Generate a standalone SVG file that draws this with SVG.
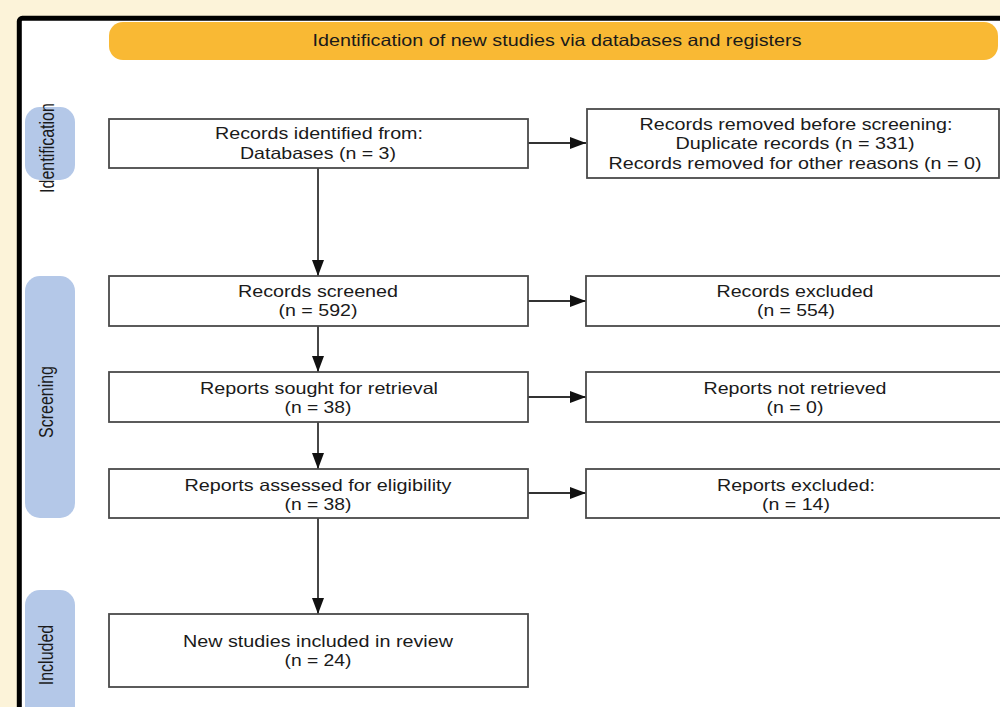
<svg xmlns="http://www.w3.org/2000/svg" width="1000" height="707" viewBox="0 0 1000 707">
<style>
.box{fill:#fff;stroke:#4a4a4a;stroke-width:1.8}
.t{font-family:"Liberation Sans",Arial,sans-serif;font-size:16.5px;fill:#1a1a1a;text-anchor:middle}
.side{fill:#b4c8e8}
.lbl{font-family:"Liberation Sans",Arial,sans-serif;font-size:16px;fill:#1a1a1a;text-anchor:middle}
.con{stroke:#333;stroke-width:1.8;fill:none;marker-end:url(#ah)}
</style>
<defs>
<marker id="ah" markerWidth="16" markerHeight="12" refX="16" refY="6" orient="auto" markerUnits="userSpaceOnUse">
<path d="M0,0 L16,6 L0,12 z" fill="#111"/>
</marker>
</defs>
<rect x="0" y="0" width="1000" height="707" fill="#fcf3d9"/>
<rect x="19.3" y="18.3" width="1100" height="800" rx="3" fill="#fff" stroke="#000" stroke-width="5"/>

<g id="banner">
<rect x="109" y="22" width="889" height="38" rx="14" fill="#f9b934"/>
<text class="t" x="557" y="46" font-size="15px" textLength="489" lengthAdjust="spacingAndGlyphs">Identification of new studies via databases and registers</text>
</g>

<g id="phase-identification">
<rect class="side" x="25" y="107" width="50" height="73" rx="15"/>
<text class="lbl" transform="translate(53.5,148) rotate(-90) scale(1,1.28)">Identification</text>
</g>
<g id="phase-screening">
<rect class="side" x="25" y="276" width="50" height="242" rx="15"/>
<text class="lbl" transform="translate(53,402) rotate(-90) scale(1,1.28)">Screening</text>
</g>
<g id="phase-included">
<rect class="side" x="25" y="590" width="50" height="140" rx="15"/>
<text class="lbl" transform="translate(53,655) rotate(-90) scale(1,1.28)">Included</text>
</g>

<g id="connectors">
<path class="con" d="M318,168 V276"/>
<path class="con" d="M318,326 V372"/>
<path class="con" d="M318,422 V469"/>
<path class="con" d="M318,518 V614"/>
<path class="con" d="M528,143 H586"/>
<path class="con" d="M528,301 H586"/>
<path class="con" d="M528,397 H586"/>
<path class="con" d="M528,493 H586"/>
</g>

<g id="records-identified">
<rect class="box" x="109" y="119" width="419" height="49"/>
<text class="t" x="319" y="139" textLength="208" lengthAdjust="spacingAndGlyphs">Records identified from:</text>
<text class="t" x="318" y="159" textLength="156" lengthAdjust="spacingAndGlyphs">Databases (n = 3)</text>
</g>
<g id="records-removed">
<rect class="box" x="587" y="109" width="412" height="69"/>
<text class="t" x="796" y="130" textLength="313" lengthAdjust="spacingAndGlyphs">Records removed before screening:</text>
<text class="t" x="795" y="149" textLength="239" lengthAdjust="spacingAndGlyphs">Duplicate records (n = 331)</text>
<text class="t" x="795" y="169" textLength="373" lengthAdjust="spacingAndGlyphs">Records removed for other reasons (n = 0)</text>
</g>
<g id="records-screened">
<rect class="box" x="109" y="276" width="419" height="50"/>
<text class="t" x="318" y="297" textLength="160" lengthAdjust="spacingAndGlyphs">Records screened</text>
<text class="t" x="318" y="316" textLength="79" lengthAdjust="spacingAndGlyphs">(n = 592)</text>
</g>
<g id="records-excluded">
<rect class="box" x="586" y="276" width="420" height="50"/>
<text class="t" x="795" y="297" textLength="157" lengthAdjust="spacingAndGlyphs">Records excluded</text>
<text class="t" x="796" y="316" textLength="78" lengthAdjust="spacingAndGlyphs">(n = 554)</text>
</g>
<g id="reports-sought">
<rect class="box" x="109" y="372" width="419" height="50"/>
<text class="t" x="319" y="394" textLength="238" lengthAdjust="spacingAndGlyphs">Reports sought for retrieval</text>
<text class="t" x="318" y="413" textLength="67" lengthAdjust="spacingAndGlyphs">(n = 38)</text>
</g>
<g id="reports-not-retrieved">
<rect class="box" x="586" y="372" width="420" height="50"/>
<text class="t" x="795" y="394" textLength="183" lengthAdjust="spacingAndGlyphs">Reports not retrieved</text>
<text class="t" x="795" y="413" textLength="57" lengthAdjust="spacingAndGlyphs">(n = 0)</text>
</g>
<g id="reports-assessed">
<rect class="box" x="109" y="469" width="419" height="49"/>
<text class="t" x="318" y="491" textLength="267" lengthAdjust="spacingAndGlyphs">Reports assessed for eligibility</text>
<text class="t" x="318" y="510" textLength="67" lengthAdjust="spacingAndGlyphs">(n = 38)</text>
</g>
<g id="reports-excluded">
<rect class="box" x="586" y="469" width="420" height="49"/>
<text class="t" x="796" y="491" textLength="158" lengthAdjust="spacingAndGlyphs">Reports excluded:</text>
<text class="t" x="796" y="510" textLength="68" lengthAdjust="spacingAndGlyphs">(n = 14)</text>
</g>
<g id="studies-included">
<rect class="box" x="109" y="614" width="419" height="73"/>
<text class="t" x="318" y="647" textLength="270" lengthAdjust="spacingAndGlyphs">New studies included in review</text>
<text class="t" x="318" y="666" textLength="67" lengthAdjust="spacingAndGlyphs">(n = 24)</text>
</g>
</svg>
